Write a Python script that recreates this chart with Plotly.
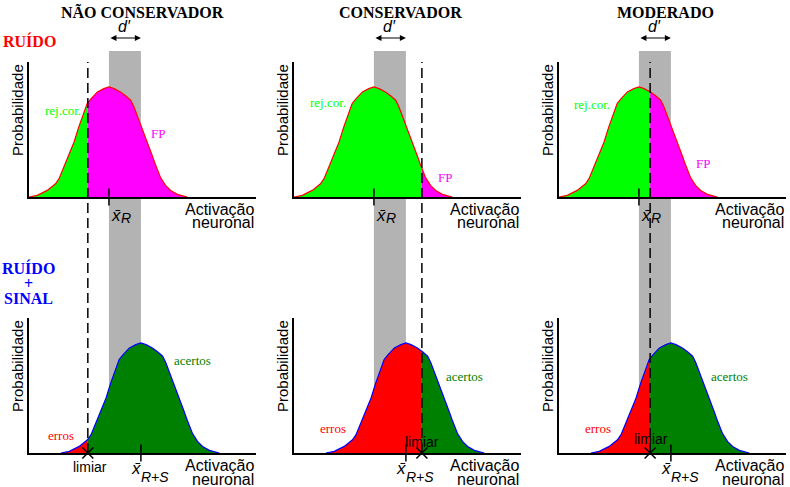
import numpy as np
import plotly.graph_objects as go

W, H = 790, 487

# ---------------- data ----------------
column_titles = ["NÃO CONSERVADOR", "CONSERVADOR", "MODERADO"]
mean_noise = 0.0          # x̄_R  (activation units, d' = 1)
mean_signal = 1.0         # x̄_{R+S}
thresholds = [-0.66, 1.5, 0.35]   # "limiar" for each criterion
density_dx = [-2.5, -2.24, -1.93, -1.67, -1.56, -1.41, -1.25, -1.09, -0.94, -0.78, -0.68,
              -0.57, -0.36, -0.16, 0.0, 0.16, 0.36, 0.52, 0.68, 0.78, 0.94, 1.09, 1.25,
              1.35, 1.46, 1.61, 1.77, 1.93, 2.14, 2.45]
density_y = [0.0, 0.015, 0.06, 0.12, 0.167, 0.27, 0.39, 0.5, 0.64, 0.76, 0.85,
             0.89, 0.955, 0.985, 1.0, 0.985, 0.955, 0.92, 0.88, 0.82, 0.70, 0.58, 0.45,
             0.38, 0.29, 0.18, 0.106, 0.06, 0.024, 0.0]
noise_region_labels = ["rej.cor.", "FP"]
signal_region_labels = ["erros", "acertos"]
mean_labels = [("x̄", "R"), ("x̄", "R+S")]
x_range = [-2.5, 4.6]
y_range = [0, 1.227]

# ---------------- layout helpers ----------------
def px(x):
    return x / W

def py(y):
    return 1 - y / H

col_left = [29, 294, 559]
col_width = 227
row_top = [(62, 197), (318, 453)]

C_NOISE_LEFT = "#00ff00"
C_NOISE_RIGHT = "#ff00ff"
C_SIG_LEFT = "#ff0000"
C_SIG_RIGHT = "#008000"
SERIF = "Liberation Serif, Times New Roman, serif"
SANS = "Liberation Sans, Arial, sans-serif"

fig = go.Figure()
layout = dict(width=W, height=H, margin=dict(l=0, r=0, t=0, b=0),
              paper_bgcolor="white", plot_bgcolor="rgba(0,0,0,0)",
              showlegend=False, shapes=[], annotations=[])


def ann(**kw):
    d = dict(showarrow=False, xanchor="center", yanchor="middle")
    d.update(kw)
    layout["annotations"].append(d)


def split_curve(mean, thr):
    xs = np.array(density_dx) + mean
    ys = np.array(density_y)
    yt = float(np.interp(thr, xs, ys))
    lx = list(xs[xs < thr]) + [thr]
    ly = list(ys[xs < thr]) + [yt]
    rx = [thr] + list(xs[xs > thr])
    ry = [yt] + list(ys[xs > thr])
    return xs, ys, (lx, ly), (rx, ry)


# (x̄ x-offset, x̄ y-below-baseline, sub x-offset, sub y-below-baseline) in px
mean_label_geom = [(7, 18.5, 17, 21.5), (-5, 15, 14, 23.5)]

for row in range(2):
    for c in range(3):
        idx = row * 3 + c + 1
        xa = "x" if idx == 1 else f"x{idx}"
        ya = "y" if idx == 1 else f"y{idx}"
        xkey = "xaxis" if idx == 1 else f"xaxis{idx}"
        ykey = "yaxis" if idx == 1 else f"yaxis{idx}"
        top, bot = row_top[row]
        layout[xkey] = dict(domain=[px(col_left[c]), px(col_left[c] + col_width)],
                            range=x_range, anchor=ya, showline=True, linecolor="black",
                            linewidth=1.5, showgrid=False, zeroline=False,
                            showticklabels=False, ticks="", fixedrange=True)
        layout[ykey] = dict(domain=[py(bot), py(top)], range=y_range, anchor=xa,
                            showline=True, linecolor="black", linewidth=1.5,
                            showgrid=False, zeroline=False, showticklabels=False,
                            ticks="", fixedrange=True)

        thr = thresholds[c]
        mean = mean_noise if row == 0 else mean_signal
        xs, ys, left, right = split_curve(mean, thr)
        cl = C_NOISE_LEFT if row == 0 else C_SIG_LEFT
        cr = C_NOISE_RIGHT if row == 0 else C_SIG_RIGHT
        outline = "#ff0000" if row == 0 else "#0000ff"
        fig.add_trace(go.Scatter(x=left[0], y=left[1], mode="lines", fill="tozeroy",
                                 fillcolor=cl, line=dict(width=0, color=cl),
                                 xaxis=xa, yaxis=ya, hoverinfo="skip"))
        fig.add_trace(go.Scatter(x=right[0], y=right[1], mode="lines", fill="tozeroy",
                                 fillcolor=cr, line=dict(width=0, color=cr),
                                 xaxis=xa, yaxis=ya, hoverinfo="skip"))
        fig.add_trace(go.Scatter(x=xs, y=ys, mode="lines",
                                 line=dict(width=1.2, color=outline),
                                 xaxis=xa, yaxis=ya, hoverinfo="skip"))
        # mean tick
        fig.add_trace(go.Scatter(x=[mean], y=[0], mode="markers", cliponaxis=False,
                                 marker=dict(symbol="line-ns-open", size=12, color="black",
                                             line=dict(width=1.5, color="black")),
                                 xaxis=xa, yaxis=ya, hoverinfo="skip"))
        if row == 1:
            fig.add_trace(go.Scatter(x=[thr], y=[0], mode="markers", cliponaxis=False,
                                     marker=dict(symbol="x-thin-open", size=11, color="black",
                                                 line=dict(width=1.5, color="black")),
                                     xaxis=xa, yaxis=ya, hoverinfo="skip"))

        # axis label annotations
        ann(text="Probabilidade", textangle=-90, xref="paper", yref="paper",
            x=px(col_left[c] - 12), y=py(top + 48),
            font=dict(family=SANS, size=15, color="black"))
        ann(text="Activação", xref=f"{xa} domain", x=1, xanchor="right",
            yref="paper", y=py(bot + 12),
            font=dict(family=SANS, size=16, color="black"))
        ann(text="neuronal", xref=f"{xa} domain", x=1, xanchor="right",
            yref="paper", y=py(bot + 26),
            font=dict(family=SANS, size=16, color="black"))
        # mean label x̄ with subscript
        gx, gy, sx, sy = mean_label_geom[row]
        main, sub = mean_labels[row]
        ann(text=f"<i>{main}</i>", xref=xa, x=mean, xshift=gx, yref="paper",
            y=py(bot + gy), font=dict(family=SANS, size=17, color="black"))
        ann(text=f"<i>{sub}</i>", xref=xa, x=mean, xshift=sx, yref="paper",
            y=py(bot + sy), font=dict(family=SANS, size=14, color="black"))

# gray d' band and dashed criterion lines (span both rows)
for c in range(3):
    xa = "x" if c == 0 else f"x{c + 1}"
    layout["shapes"].append(dict(type="rect", xref=xa, yref="paper",
                                 x0=mean_noise, x1=mean_signal, y0=py(453), y1=py(51),
                                 fillcolor="#b3b3b3", line=dict(width=0), layer="below"))
    layout["shapes"].append(dict(type="line", xref=xa, yref="paper",
                                 x0=thresholds[c], x1=thresholds[c], y0=py(453), y1=py(62),
                                 line=dict(color="black", width=1.5, dash="10px,5px"),
                                 layer="above"))
    # d' label and double arrow
    ann(text="<i>d′</i>", xref=xa, x=(mean_noise + mean_signal) / 2, yref="paper",
        y=py(26), font=dict(family=SANS, size=16, color="black"))
    layout["annotations"].append(dict(
        text="", xref=xa, x=mean_signal, yref="paper", y=py(38),
        axref=xa, ax=mean_noise, ayref="pixel", ay=0, showarrow=True,
        arrowhead=2, arrowside="end+start", arrowsize=1, arrowwidth=1.2,
        arrowcolor="black", standoff=0, startstandoff=0))

# column titles
title_px = [142, 400, 665]
for c in range(3):
    ann(text=f"<b>{column_titles[c]}</b>", xref="paper", yref="paper",
        x=px(title_px[c]), y=py(12),
        font=dict(family=SERIF, size=16, color="black"))

# row labels
ann(text="<b>RUÍDO</b>", xref="paper", yref="paper", x=px(29), y=py(41),
    font=dict(family=SERIF, size=16, color="#ff0000"))
for t, yy in [("RUÍDO", 268), ("+", 283), ("SINAL", 298)]:
    ann(text=f"<b>{t}</b>", xref="paper", yref="paper", x=px(28), y=py(yy),
        font=dict(family=SERIF, size=16, color="#0000ff"))

# region labels (pixel positions of text centres)
region_pos = [
    [(63, 110), (158, 133), (61, 435), (192, 360)],
    [(328, 103), (445, 177), (333, 428), (464, 376)],
    [(592, 104), (703, 163), (598, 428), (729, 376)],
]
region_colors = [C_NOISE_LEFT, C_NOISE_RIGHT, C_SIG_LEFT, C_SIG_RIGHT]
region_text = noise_region_labels + signal_region_labels
for c in range(3):
    for k in range(4):
        x0, y0 = region_pos[c][k]
        ann(text=region_text[k], xref="paper", yref="paper", x=px(x0), y=py(y0),
            font=dict(family=SERIF, size=13, color=region_colors[k]))

limiar_pos = [(90, 467), (422, 442), (651, 439)]
for c in range(3):
    ann(text="limiar", xref="paper", yref="paper", x=px(limiar_pos[c][0]),
        y=py(limiar_pos[c][1]), font=dict(family=SANS, size=14, color="black"))

fig.update_layout(**layout)
fig.write_html("out.html", config={"displayModeBar": False},
               post_script="document.body.style.margin='0px';")
